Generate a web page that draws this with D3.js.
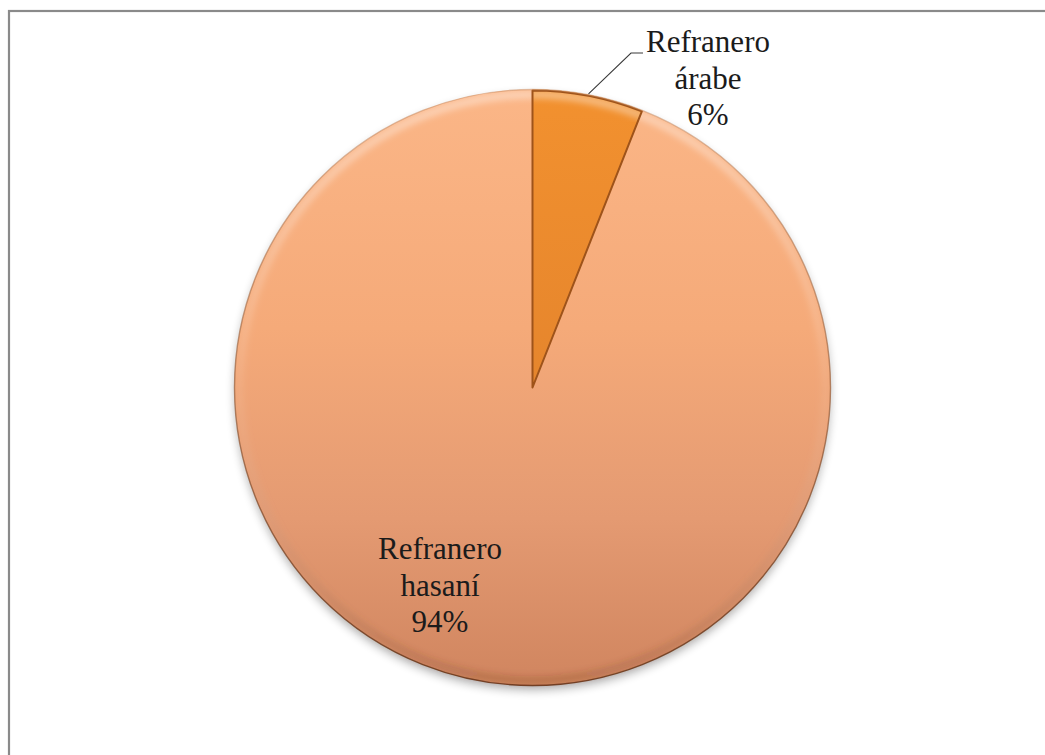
<!DOCTYPE html>
<html>
<head>
<meta charset="utf-8">
<script src="https://cdn.jsdelivr.net/npm/d3@7/dist/d3.min.js"></script>
<style>
  html, body { margin: 0; padding: 0; background: #fff; }
  svg { display: block; }
  .lbl { font-family: "Liberation Serif", "Times New Roman", serif; font-size: 31px; fill: #1b1b1b; }
</style>
</head>
<body>
<svg id="chart" width="1045" height="755"></svg>
<script>
// Proverb sources: share of each collection
const categories = ["Refranero árabe", "Refranero hasaní"];
const values = [6, 94];
const labelLines = [["Refranero", "árabe", "6%"], ["Refranero", "hasaní", "94%"]];

const W = 1045, H = 755;
const cx = 532.5, cy = 387.5, R = 298;

const svg = d3.select("#chart");
const defs = svg.append("defs");

// Frame of the chart area
svg.append("rect")
  .attr("x", 9).attr("y", 11)
  .attr("width", W + 20).attr("height", H + 20)
  .attr("fill", "#fff")
  .attr("stroke", "#8a8a8a")
  .attr("stroke-width", 2.2);

// Vertical gradient helper, in the pie group's local coordinates
function vGrad(id, stops) {
  const g = defs.append("linearGradient").attr("id", id)
    .attr("gradientUnits", "userSpaceOnUse")
    .attr("x1", 0).attr("y1", -R).attr("x2", 0).attr("y2", R);
  stops.forEach(s => g.append("stop")
    .attr("offset", s[0]).attr("stop-color", s[1])
    .attr("stop-opacity", s[2] === undefined ? 1 : s[2]));
}

// Slice fills
const fills = [
  { id: "gArabe", stops: [["0%", "#F2912F"], ["100%", "#D9792A"]], edge: "#9E531A" },
  { id: "gHasani", stops: [["0%", "#FBB687"], ["40%", "#F5AA79"], ["72%", "#E49A72"], ["100%", "#D0855F"]] }
];
fills.forEach(f => vGrad(f.id, f.stops));

// Rim bevel: light at top, darker at bottom
vGrad("gRim", [["0%", "#fff", 0.4], ["50%", "#fff", 0.08], ["100%", "#5a2a10", 0.2]]);
// Outer edge line
vGrad("gEdge", [["0%", "#c98a5e", 0.5], ["100%", "#6e3a1e", 0.95]]);

const blur = defs.append("filter").attr("id", "soft")
  .attr("x", "-10%").attr("y", "-10%").attr("width", "120%").attr("height", "120%");
blur.append("feGaussianBlur").attr("stdDeviation", 3);

const shadow = defs.append("filter").attr("id", "shadow")
  .attr("x", "-10%").attr("y", "-10%").attr("width", "120%").attr("height", "120%");
shadow.append("feGaussianBlur").attr("stdDeviation", 5);

const pie = d3.pie().sort(null).value(d => d)(values);
const arc = d3.arc().innerRadius(0).outerRadius(R);
const rimArc = d3.arc().innerRadius(R - 9).outerRadius(R - 1);

const g = svg.append("g").attr("transform", `translate(${cx},${cy})`);

// Soft shadow under the pie
g.append("circle")
  .attr("cx", 0).attr("cy", 5).attr("r", R)
  .attr("fill", "#000").attr("opacity", 0.28)
  .attr("filter", "url(#shadow)");

// Slices
g.selectAll("path.slice")
  .data(pie)
  .join("path")
  .attr("class", "slice")
  .attr("d", arc)
  .attr("fill", (d, i) => `url(#${fills[i].id})`);

// Bevel highlight along the rim of each slice
g.selectAll("path.rim")
  .data(pie)
  .join("path")
  .attr("class", "rim")
  .attr("d", rimArc)
  .attr("fill", "url(#gRim)")
  .attr("filter", "url(#soft)");

// Darker edge for the small slice
g.append("path")
  .datum(pie[0])
  .attr("d", d3.arc().innerRadius(0).outerRadius(R - 1))
  .attr("fill", "none")
  .attr("stroke", fills[0].edge)
  .attr("stroke-width", 2)
  .attr("stroke-linejoin", "round");

// Outer edge of the whole pie
g.append("circle")
  .attr("r", R)
  .attr("fill", "none")
  .attr("stroke", "url(#gEdge)")
  .attr("stroke-width", 1.4);

// Labels
const labelPos = [
  { x: 708, y: 52 },   // first baseline, small slice (outside)
  { x: 440, y: 559 }   // first baseline, large slice (inside)
];
const lineH = 36.5;

labelLines.forEach((lines, i) => {
  const t = svg.append("text")
    .attr("class", "lbl")
    .attr("text-anchor", "middle");
  lines.forEach((ln, j) => {
    t.append("tspan")
      .attr("x", labelPos[i].x)
      .attr("y", labelPos[i].y + j * lineH)
      .text(ln);
  });
});

// Leader line from the small slice to its label
const a0 = (pie[0].startAngle + pie[0].endAngle) / 2;
const px = cx + Math.sin(a0) * (R + 1), py = cy - Math.cos(a0) * (R + 1);
svg.append("polyline")
  .attr("points", `${px},${py} ${631},${53} ${643},${53}`)
  .attr("fill", "none")
  .attr("stroke", "#3a3a3a")
  .attr("stroke-width", 1.1);
</script>
</body>
</html>
